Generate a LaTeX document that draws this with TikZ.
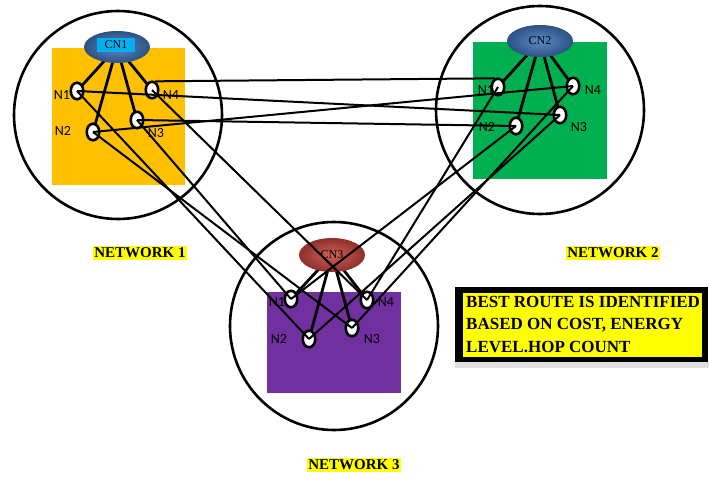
\documentclass[tikz,border=0pt]{standalone}
\usepackage{fontspec}
\setmainfont{Liberation Serif}
\newfontfamily\lblfont{Carlito}
\usetikzlibrary{shapes.geometric}
\definecolor{netorange}{HTML}{FFC000}
\definecolor{netgreen}{HTML}{00B050}
\definecolor{netpurple}{HTML}{7030A0}
\definecolor{cnblue}{HTML}{5B8CC8}
\definecolor{cnbluedark}{HTML}{2C5283}
\definecolor{cnred}{HTML}{CF5F58}
\definecolor{cnreddark}{HTML}{8E302B}
\definecolor{cyanbox}{HTML}{00B0F0}
\definecolor{hilite}{HTML}{FFFF00}
\begin{document}
\begin{tikzpicture}[x=1pt,y=-1pt,
  netcircle/.style={draw=black, line width=2.6pt},
  cnnode/.style={ellipse, minimum width=66pt, minimum height=32pt, inner sep=0pt, font=\fontsize{12}{12}\selectfont},
  bluecn/.style={cnnode, inner color=cnblue, outer color=cnbluedark},
  redcn/.style={cnnode, inner color=cnred, outer color=cnreddark},
  smallnode/.style={ellipse, draw=black, fill=white, line width=2.6pt, minimum width=12.5pt, minimum height=16.5pt, inner sep=0pt},
  nlabel/.style={font=\lblfont\fontsize{14}{14}\selectfont, text=black, inner sep=0pt},
  cnlink/.style={line width=2.8pt},
  link/.style={line width=2pt},
  netlabel/.style={fill=hilite, font=\bfseries\fontsize{15}{15}\selectfont, inner sep=1.5pt}
]
\useasboundingbox (0,0) rectangle (709,479);

% coloured areas
\fill[netorange] (52,48) rectangle (185,185);
\fill[netgreen] (473,42) rectangle (607,179);
\fill[netpurple] (267,292) rectangle (401,393);

% network circles
\draw[netcircle] (118,115) circle[radius=104];
\draw[netcircle] (540,110) circle[radius=104];
\draw[netcircle] (334,326) circle[radius=104];

% coordinates of cluster heads
\coordinate (c1) at (117,47);
\coordinate (c2) at (540,41);
\coordinate (c3) at (332,255);

% member nodes positions
\coordinate (p11) at (77,91);
\coordinate (p12) at (93,132);
\coordinate (p13) at (137,120);
\coordinate (p14) at (152,90);
\coordinate (p21) at (498,87);
\coordinate (p22) at (516,126);
\coordinate (p23) at (560,115);
\coordinate (p24) at (573,86);
\coordinate (p31) at (291,299);
\coordinate (p32) at (309,339);
\coordinate (p33) at (352,328);
\coordinate (p34) at (367,300);

% CN to member links
\foreach \n in {1,2,3}{
  \foreach \m in {1,2,3,4}{
    \draw[cnlink] (c\n) -- (p\n\m);
  }
}

% cluster head nodes
\node[bluecn] (cn1) at (c1) {};
\node[fill=cyanbox, minimum width=38pt, minimum height=14pt, inner sep=0pt, font=\fontsize{12}{12}\selectfont] (cn1t) at (116,45) {CN1};
\node[bluecn] (cn2) at (c2) {CN2};
\node[redcn, minimum height=34pt] (cn3) at (c3) {CN3};

% member nodes
\foreach \n in {1,2,3}{
  \foreach \m in {1,2,3,4}{
    \node[smallnode] (n\n\m) at (p\n\m) {};
  }
}

% node labels
\node[nlabel] (l11) at (62,95) {N1};
\node[nlabel] (l12) at (63,131) {N2};
\node[nlabel] (l13) at (156,133) {N3};
\node[nlabel] (l14) at (171,95) {N4};
\node[nlabel] (l21) at (486,90) {N1};
\node[nlabel] (l22) at (487,127) {N2};
\node[nlabel] (l23) at (579,127) {N3};
\node[nlabel] (l24) at (593,90) {N4};
\node[nlabel] (l31) at (277,302) {N1};
\node[nlabel] (l32) at (279,339) {N2};
\node[nlabel] (l33) at (372,339) {N3};
\node[nlabel] (l34) at (386,302) {N4};

% inter-network links
\draw[link] (n14.70) -- (n21.110);
\draw[link] (n11.center) -- (n23.center);
\draw[link] (n13.center) -- (n22.center);
\draw[link] (n12.center) -- (n24.center);
\draw[link] (n14.center) -- (n34.center);
\draw[link] (n13.center) -- (n31.center);
\draw[link] (n11.center) -- (n32.center);
\draw[link] (n12.center) -- (n33.center);
\draw[link] (n21.center) -- (n34.center);
\draw[link] (n22.center) -- (n31.center);
\draw[link] (n23.center) -- (n32.center);
\draw[link] (n24.center) -- (n33.center);

% network labels
\node[netlabel] (nl1) at (140,253) {NETWORK 1};
\node[netlabel] (nl2) at (613,253) {NETWORK 2};
\node[netlabel] (nl3) at (354,465) {NETWORK 3};

% note box
\fill[black!12] (455,362) rectangle (709,368);
\fill[black] (455,287) rectangle (708,362);
\fill[hilite] (463,293) rectangle (702,357);
\node[anchor=north west, align=left, inner sep=0pt, font=\bfseries\fontsize{17}{22.5}\selectfont] (note) at (466,296) {BEST ROUTE IS IDENTIFIED\\BASED ON COST, ENERGY\\LEVEL.HOP COUNT};
\end{tikzpicture}
\end{document}
